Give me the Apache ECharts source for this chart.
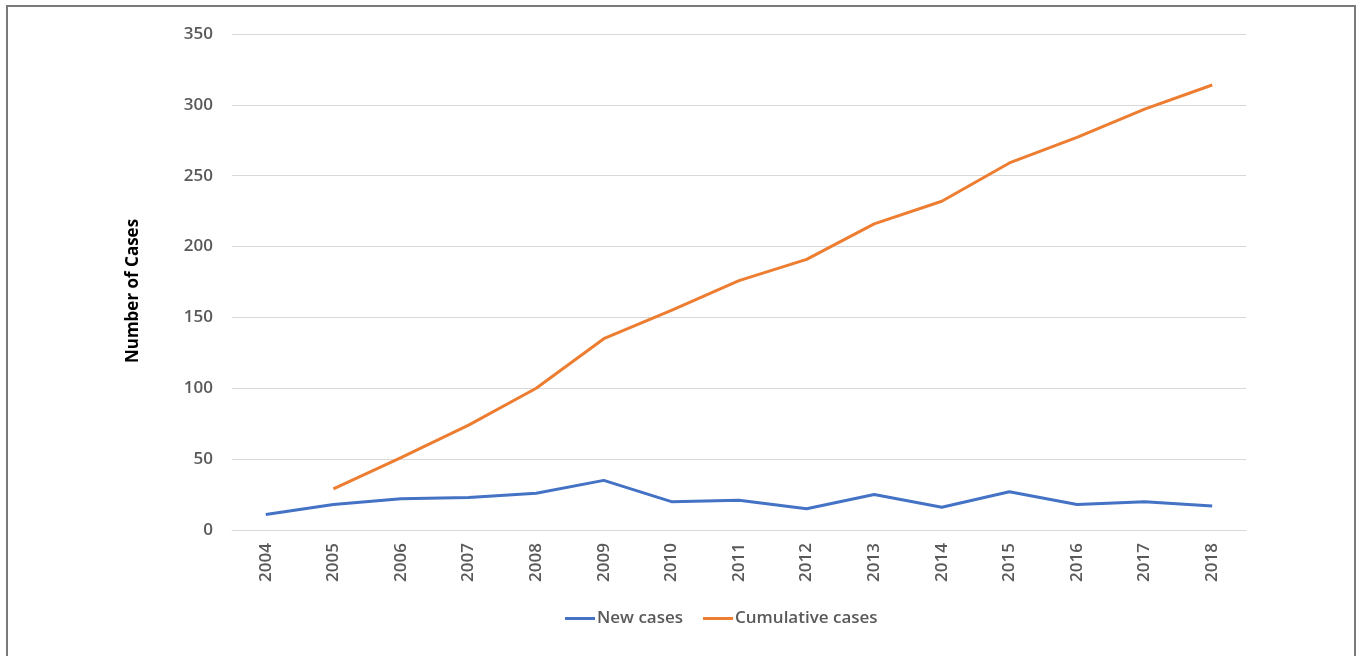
<!DOCTYPE html>
<html>
<head>
<meta charset="utf-8">
<script src="https://cdn.jsdelivr.net/npm/echarts@6/dist/echarts.min.js"></script>
<style>
  html, body { margin: 0; padding: 0; background: #ffffff; }
  #chart { width: 1357px; height: 656px; }
</style>
</head>
<body>
<div id="chart"></div>
<script>
// Yearly case counts
const years = ['2004', '2005', '2006', '2007', '2008', '2009', '2010', '2011',
               '2012', '2013', '2014', '2015', '2016', '2017', '2018'];
const newCases = [11, 18, 22, 23, 26, 35, 20, 21, 15, 25, 16, 27, 18, 20, 17];
const cumulativeCases = [null, 29, 51, 74, 100, 135, 155, 176, 191, 216, 232, 259, 277, 297, 314];
const yTicks = [0, 50, 100, 150, 200, 250, 300, 350];

const font = '"Open Sans", "Noto Sans", sans-serif';
const chart = echarts.init(document.getElementById('chart'), null, { renderer: 'canvas' });

chart.setOption({
  animation: false,
  backgroundColor: '#ffffff',
  graphic: [{
    type: 'rect',
    shape: { x: 7, y: 6, width: 1348, height: 670 },
    style: { fill: 'none', stroke: '#7a7a7a', lineWidth: 2 },
    silent: true
  }],
  grid: { left: 232, right: 111, top: 34, bottom: 126 },
  legend: {
    left: 560,
    top: 605,
    itemWidth: 30,
    itemHeight: 3,
    itemGap: 20,
    icon: 'rect',
    textStyle: { fontFamily: font, fontSize: 17, fontWeight: 600, color: '#595959', padding: [0, 0, 0, -3] },
    data: ['New cases', 'Cumulative cases']
  },
  xAxis: {
    type: 'category',
    data: years,
    boundaryGap: true,
    axisLine: { lineStyle: { color: '#d9d9d9', width: 1 } },
    axisTick: { show: false },
    axisLabel: { rotate: 90, margin: 13, fontFamily: font, fontSize: 17, fontWeight: 600, color: '#595959' }
  },
  yAxis: {
    type: 'value',
    min: yTicks[0],
    max: yTicks[yTicks.length - 1],
    interval: yTicks[1] - yTicks[0],
    name: 'Number of Cases',
    nameLocation: 'middle',
    nameRotate: 90,
    nameGap: 90,
    nameTextStyle: { fontFamily: font, fontSize: 17, fontWeight: 'bold', color: '#000000', padding: [0, 18, 0, 0] },
    axisLine: { show: false },
    axisTick: { show: false },
    axisLabel: { margin: 19, fontFamily: font, fontSize: 17, fontWeight: 600, color: '#595959' },
    splitLine: { lineStyle: { color: '#d9d9d9', width: 1 } }
  },
  series: [
    {
      name: 'New cases',
      type: 'line',
      data: newCases,
      symbol: 'none',
      color: '#4472c4',
      lineStyle: { width: 3, color: '#4472c4' }
    },
    {
      name: 'Cumulative cases',
      type: 'line',
      data: cumulativeCases,
      symbol: 'none',
      color: '#ed7d31',
      lineStyle: { width: 3, color: '#ed7d31' }
    }
  ]
});
</script>
</body>
</html>
